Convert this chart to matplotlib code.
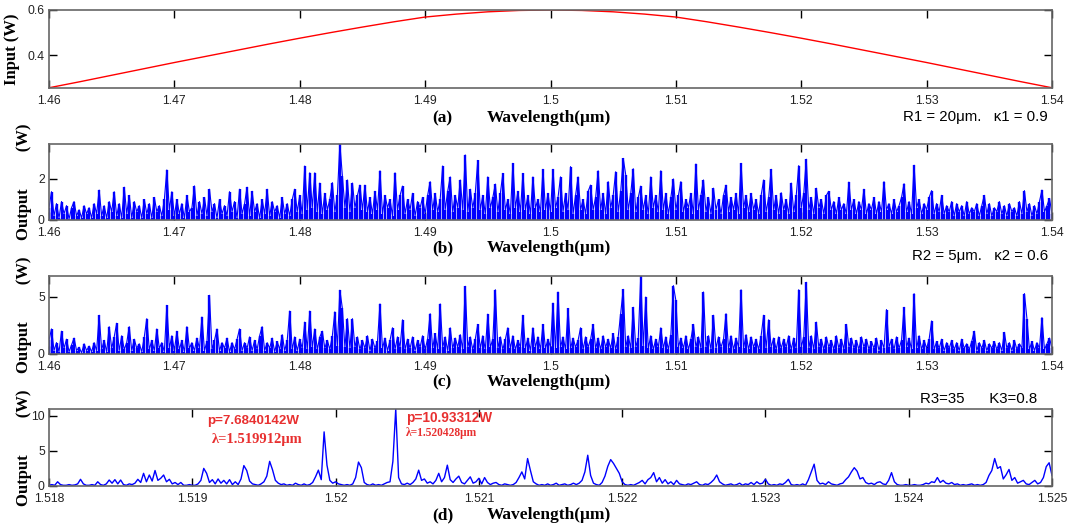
import numpy as np
import matplotlib
matplotlib.use("Agg")
import matplotlib.pyplot as plt

# ---------------- data ----------------
# (a) input spectrum, sampled every 0.0025 um from 1.46 to 1.54
wl_a_start, wl_a_step = 1.46, 0.0025
input_w = [0.258, 0.285, 0.313, 0.341, 0.369, 0.396, 0.423, 0.450, 0.476, 0.501,
           0.525, 0.548, 0.569, 0.582, 0.592, 0.598, 0.600, 0.598, 0.592, 0.582,
           0.569, 0.548, 0.525, 0.501, 0.476, 0.450, 0.423, 0.396, 0.369, 0.341,
           0.313, 0.285, 0.258]

# (b) output, ring R1, sampled every 0.0002 um from 1.46
wl_b_start, wl_b_step = 1.46, 0.0002
output_b = [
    0.6, 1.38, 0.2, 0.8, 0.1, 0.9, 0.3, 0.7, 0.05, 0.6, 0.9, 0.2, 0.5, 0.1, 0.7, 0.3, 0.6, 0.1, 0.8, 0.3,
    1.46, 0.2, 0.7, 0.1, 0.9, 0.4, 1.38, 0.2, 0.8, 0.1, 1.6, 0.3, 1.2, 0.1, 0.9, 0.4, 0.7, 0.1, 1.0, 0.3,
    0.8, 0.1, 1.1, 0.4, 0.7, 0.2, 1.0, 2.44, 0.5, 1.38, 0.2, 1.0, 0.3, 0.8, 0.1, 1.2, 0.4, 0.6, 1.66, 0.2,
    0.9, 0.3, 1.1, 0.2, 1.5, 0.4, 0.8, 0.1, 1.0, 0.3, 0.7, 0.2, 1.38, 0.4, 0.9, 0.1, 1.5, 0.3, 0.8, 1.6,
    0.2, 1.4, 0.4, 0.8, 0.1, 1.0, 0.3, 1.5, 0.2, 0.9, 0.4, 0.7, 0.1, 1.1, 0.3, 0.8, 0.2, 1.0, 1.5, 0.4,
    1.2, 0.3, 2.63, 0.5, 2.3, 0.6, 2.3, 0.4, 1.8, 0.3, 1.3, 0.5, 1.0, 1.82, 0.4, 1.2, 3.7, 2.15, 0.6, 1.95,
    0.4, 1.8, 0.6, 1.2, 1.7, 0.5, 1.7, 0.4, 1.1, 0.3, 1.4, 0.5, 2.4, 0.3, 1.2, 0.6, 1.0, 0.2, 2.3, 0.5,
    1.2, 1.65, 0.3, 1.0, 0.5, 1.3, 0.2, 0.9, 0.6, 1.1, 0.3, 1.2, 1.87, 0.5, 1.3, 0.4, 1.0, 2.63, 0.5, 1.4,
    2.1, 0.4, 1.2, 0.6, 1.95, 0.5, 3.17, 0.4, 1.5, 0.6, 1.3, 2.9, 0.5, 1.2, 0.3, 2.1, 0.6, 1.1, 1.75, 0.4,
    1.3, 2.27, 0.5, 1.0, 0.3, 2.76, 0.6, 1.4, 0.4, 2.27, 0.5, 1.2, 0.3, 2.1, 0.6, 1.0, 0.4, 2.47, 0.5, 1.3,
    0.4, 2.47, 0.6, 1.1, 2.1, 0.4, 1.3, 0.5, 2.6, 0.3, 1.2, 2.1, 0.5, 1.0, 0.3, 1.4, 1.7, 0.5, 1.1, 2.4,
    0.5, 1.3, 0.3, 1.87, 0.6, 1.2, 2.35, 0.4, 1.4, 3.0, 2.2, 0.5, 1.3, 2.5, 0.4, 1.1, 1.65, 0.5, 1.2, 0.3,
    2.1, 0.6, 1.2, 0.4, 2.4, 0.5, 1.3, 0.3, 1.1, 2.0, 0.5, 1.2, 1.87, 0.4, 1.0, 0.6, 1.3, 0.3, 2.73, 0.5,
    1.2, 1.95, 0.4, 1.1, 0.3, 1.55, 0.5, 1.0, 0.3, 1.2, 1.7, 0.4, 1.1, 0.5, 1.3, 0.3, 2.76, 0.6, 1.2, 0.4,
    1.3, 0.5, 1.0, 0.3, 1.2, 1.95, 0.4, 1.1, 2.47, 0.5, 1.2, 0.3, 1.33, 0.5, 1.0, 0.3, 1.8, 0.4, 1.2, 2.65,
    0.6, 1.3, 2.96, 0.5, 1.1, 0.3, 1.55, 0.6, 1.0, 0.3, 1.2, 1.4, 0.5, 0.9, 0.3, 1.1, 0.5, 0.8, 0.3, 1.85,
    0.5, 1.0, 0.3, 0.9, 0.5, 1.5, 0.3, 0.8, 0.5, 1.1, 0.3, 0.9, 0.4, 1.87, 0.5, 0.8, 0.3, 1.0, 0.4, 0.7,
    1.1, 1.77, 0.4, 0.9, 0.3, 2.67, 0.6, 1.0, 0.3, 0.8, 0.5, 1.1, 1.43, 0.3, 0.8, 0.4, 1.2, 0.3, 0.7, 0.4,
    0.9, 0.2, 0.8, 0.4, 0.7, 0.2, 0.9, 0.3, 0.6, 0.4, 0.8, 0.2, 0.7, 1.2, 0.3, 0.8, 0.2, 0.6, 0.4, 0.9,
    0.3, 0.7, 0.2, 0.8, 0.4, 0.6, 0.2, 0.9, 0.3, 1.43, 0.4, 0.8, 0.2, 0.7, 0.3, 0.9, 1.46, 0.4, 0.7, 1.05,
    0.3]

# (c) output, ring R2, sampled every 0.0002 um from 1.46
wl_c_start, wl_c_step = 1.46, 0.0002
output_c = [
    1.2, 2.2, 0.3, 1.0, 0.2, 2.0, 0.5, 1.3, 0.2, 0.8, 1.4, 0.3, 0.6, 0.1, 0.9, 0.3, 0.7, 0.2, 1.0, 0.3,
    3.4, 0.4, 1.2, 0.2, 2.4, 0.5, 1.5, 2.7, 0.3, 1.6, 0.4, 1.0, 2.4, 0.3, 1.3, 0.5, 0.9, 0.2, 1.5, 3.1,
    0.4, 1.2, 0.3, 2.2, 0.5, 1.0, 0.2, 4.27, 0.5, 1.6, 0.3, 2.0, 0.4, 1.2, 0.2, 2.4, 0.5, 1.0, 0.3, 1.4,
    0.5, 3.25, 0.3, 1.1, 5.15, 0.4, 1.2, 2.2, 0.3, 1.0, 0.5, 1.4, 0.2, 1.0, 0.4, 1.3, 2.2, 0.3, 1.0, 0.5,
    1.5, 0.3, 1.2, 0.4, 1.6, 2.4, 0.3, 1.0, 0.5, 1.4, 0.2, 1.1, 0.4, 1.7, 0.3, 1.2, 3.77, 0.4, 1.5, 0.3,
    1.3, 0.5, 2.8, 0.4, 3.77, 0.6, 2.2, 0.4, 1.5, 2.0, 0.5, 1.2, 0.4, 1.6, 3.7, 0.7, 5.6, 4.0, 0.6, 3.1,
    0.5, 3.1, 0.6, 1.5, 0.4, 1.2, 0.5, 1.6, 0.3, 1.3, 0.5, 1.1, 4.4, 0.5, 1.4, 0.3, 1.2, 2.3, 0.4, 1.5,
    0.6, 3.0, 0.4, 1.3, 0.5, 1.5, 0.3, 1.2, 0.6, 1.6, 0.4, 1.3, 3.54, 0.5, 1.8, 0.4, 4.4, 0.6, 1.5, 0.3,
    2.3, 0.5, 1.4, 0.6, 1.7, 0.4, 5.94, 0.6, 1.5, 0.4, 1.3, 2.6, 0.5, 1.6, 0.4, 3.5, 0.6, 1.3, 5.64, 0.5,
    1.5, 0.4, 1.3, 2.3, 0.5, 1.6, 0.4, 1.2, 0.6, 3.4, 0.5, 1.4, 0.3, 2.3, 0.6, 1.5, 0.4, 2.6, 0.5, 1.3,
    0.6, 4.47, 0.5, 5.44, 0.6, 1.5, 0.4, 4.0, 0.5, 1.4, 0.6, 1.2, 2.3, 0.4, 1.5, 0.6, 1.3, 2.6, 0.5, 1.4,
    0.4, 1.6, 0.6, 1.3, 0.5, 1.8, 0.4, 1.5, 3.54, 5.67, 0.6, 1.6, 0.5, 4.1, 0.6, 1.4, 6.84, 0.7, 5.0, 0.5,
    1.6, 0.4, 1.3, 0.6, 2.3, 0.5, 1.5, 0.4, 1.7, 6.0, 4.7, 0.6, 1.4, 0.5, 1.6, 0.4, 1.3, 2.6, 0.6, 1.5,
    0.5, 5.44, 0.6, 1.6, 0.4, 3.4, 0.5, 1.5, 0.6, 1.3, 3.54, 0.5, 1.6, 0.4, 1.4, 0.6, 5.64, 0.5, 1.7, 0.4,
    1.5, 0.6, 1.3, 0.4, 1.6, 3.4, 0.5, 3.0, 0.6, 1.4, 0.4, 1.5, 0.5, 1.3, 0.6, 1.6, 0.4, 1.4, 0.5, 5.64,
    0.6, 1.5, 6.29, 0.5, 1.6, 0.4, 2.8, 0.6, 1.3, 0.4, 1.5, 0.6, 1.2, 0.4, 1.6, 0.5, 1.3, 0.4, 2.6, 0.6,
    1.4, 0.5, 1.2, 0.4, 1.5, 0.6, 1.3, 0.4, 1.1, 0.5, 1.4, 0.3, 1.2, 0.5, 3.9, 0.6, 1.3, 0.4, 1.5, 0.5,
    1.2, 4.1, 0.6, 1.4, 0.4, 5.3, 0.5, 1.6, 0.4, 1.2, 0.5, 1.3, 2.9, 0.4, 1.1, 0.5, 1.3, 0.3, 1.0, 0.5,
    1.2, 0.4, 1.0, 0.3, 1.3, 0.5, 0.9, 0.4, 1.1, 2.0, 0.3, 1.0, 0.5, 1.2, 0.3, 0.9, 0.5, 1.1, 0.4, 1.0,
    0.3, 1.9, 0.5, 1.0, 0.3, 1.2, 0.4, 0.9, 0.5, 5.3, 3.1, 0.4, 1.1, 0.3, 1.0, 0.5, 3.2, 0.4, 0.9, 1.4,
    0.5]

# (d) output, ring R3, sampled every 0.00002 um from 1.518
wl_d_start, wl_d_step = 1.518, 0.00002
output_d = [
    0.1, 0.2, 0.1, 0.6, 0.2, 0.1, 0.1, 0.2, 0.1, 0.15, 0.3, 0.95, 0.3, 0.1, 0.1, 0.2, 0.1, 0.6, 0.2, 0.1,
    0.3, 0.85, 0.4, 0.9, 0.3, 0.85, 0.2, 0.1, 0.3, 0.2, 0.4, 0.95, 0.5, 1.8, 0.6, 1.56, 0.7, 2.2, 0.8, 1.1,
    1.56, 0.6, 0.95, 0.3, 0.5, 0.2, 0.5, 0.1, 0.1, 0.2, 0.1, 0.1, 0.3, 0.8, 2.5, 1.8, 0.5, 0.9, 0.3, 1.0,
    0.4, 0.8, 0.3, 0.9, 0.2, 0.6, 0.2, 1.0, 2.9, 2.2, 0.7, 0.3, 0.2, 0.1, 0.3, 0.6, 1.4, 3.5, 2.3, 0.8,
    0.4, 0.2, 0.3, 0.1, 0.2, 0.1, 0.4, 0.2, 0.1, 0.3, 0.1, 0.2, 0.5, 1.3, 2.25, 0.9, 7.684, 2.96, 0.8, 0.4,
    0.6, 0.3, 0.2, 0.1, 0.2, 0.1, 0.3, 1.2, 3.4, 2.6, 0.5, 0.2, 0.1, 0.3, 0.1, 0.2, 0.1, 0.3, 0.5, 0.6,
    3.5, 10.933, 1.2, 0.3, 0.2, 0.4, 0.2, 0.5, 1.0, 2.25, 0.8, 1.0, 0.4, 0.6, 0.3, 0.8, 1.8, 0.6, 1.2, 2.96,
    0.9, 0.5, 1.0, 1.4, 0.5, 0.3, 0.8, 1.3, 0.4, 0.6, 1.1, 0.3, 1.2, 0.5, 0.2, 0.4, 0.5, 0.2, 0.1, 0.3,
    0.2, 0.1, 0.2, 0.5, 1.2, 2.0, 1.0, 3.9, 2.2, 0.6, 0.3, 0.1, 0.2, 0.1, 0.3, 0.1, 0.2, 0.4, 0.1, 0.2,
    0.3, 0.1, 0.2, 0.4, 0.2, 0.4, 0.8, 2.0, 4.37, 1.5, 0.4, 0.2, 0.1, 0.5, 1.4, 2.8, 3.75, 3.2, 2.5, 1.8,
    0.6, 0.2, 0.1, 0.2, 0.1, 0.3, 0.5, 0.8, 0.3, 0.9, 1.2, 1.9, 0.6, 1.2, 0.4, 0.9, 0.3, 0.6, 0.2, 0.8,
    0.3, 0.2, 0.1, 0.3, 0.2, 0.4, 0.6, 0.2, 0.1, 0.3, 0.2, 0.5, 0.9, 1.56, 0.6, 0.3, 0.1, 0.2, 0.3, 0.1,
    0.2, 0.4, 0.1, 0.3, 0.2, 0.5, 0.2, 0.6, 0.3, 0.4, 0.95, 0.3, 0.1, 0.2, 0.1, 0.3, 0.2, 0.5, 0.95, 0.2,
    0.1, 0.2, 0.1, 0.3, 0.1, 0.9, 2.0, 3.1, 0.8, 0.3, 0.4, 0.2, 0.6, 0.3, 0.2, 0.1, 0.3, 0.4, 0.9, 1.3,
    2.0, 2.6, 2.1, 1.0, 1.2, 0.5, 0.3, 0.4, 0.2, 0.5, 0.6, 0.3, 0.2, 0.8, 1.9, 0.6, 0.2, 0.1, 0.1, 0.2,
    0.1, 0.1, 0.2, 0.1, 0.1, 0.2, 0.4, 0.3, 0.6, 0.5, 1.2, 0.5, 0.8, 0.4, 0.3, 0.5, 0.2, 0.3, 0.1, 0.2,
    0.1, 0.2, 0.3, 0.1, 0.2, 0.1, 0.2, 0.5, 1.5, 2.2, 3.9, 2.5, 2.75, 1.0, 1.6, 2.35, 0.8, 1.2, 0.4, 0.6,
    0.8, 0.3, 0.2, 0.5, 0.8, 0.3, 0.5, 1.2, 2.75, 3.3, 1.5]

ticks_ad = [1.46, 1.47, 1.48, 1.49, 1.5, 1.51, 1.52, 1.53, 1.54]
ticklabels_ad = ["1.46", "1.47", "1.48", "1.49", "1.5", "1.51", "1.52", "1.53", "1.54"]
ticks_d = [1.518, 1.519, 1.52, 1.521, 1.522, 1.523, 1.524, 1.525]
ticklabels_d = ["1.518", "1.519", "1.52", "1.521", "1.522", "1.523", "1.524", "1.525"]

# ---------------- figure ----------------
W, H = 1073, 530
fig = plt.figure(figsize=(W / 100, H / 100), dpi=100)

SANS = "Liberation Sans"
SERIF = "Liberation Serif"


def axrect(top, bottom, left=49, right=1052):
    return [left / W, 1 - bottom / H, (right - left) / W, (bottom - top) / H]


def style(ax, xt, xtl, yt):
    ax.set_xticks(xt)
    ax.set_xticklabels(xtl, fontfamily=SANS, fontsize=8.8)
    ax.set_yticks(yt)
    ax.set_yticklabels([("%g" % v) for v in yt], fontfamily=SANS, fontsize=8.8)
    ax.tick_params(direction="in", length=6, width=1, top=True, right=True,
                   colors="black", labelcolor="#222222")
    ax.tick_params(axis="x", pad=4.8)
    ax.tick_params(axis="y", pad=3)
    for s in ax.spines.values():
        s.set_color("#666666")
        s.set_linewidth(1.2)


def ptext(x, y, s, **kw):
    fig.text(x / W, 1 - y / H, s, **kw)


ylab_kw = dict(fontfamily=SERIF, fontweight="bold", fontsize=12)

# (a)
ax_a = fig.add_axes(axrect(10, 88))
xa = wl_a_start + wl_a_step * np.arange(len(input_w))
ax_a.plot(xa, input_w, color="red", lw=1.0)
ax_a.set_xlim(1.46, 1.54)
ax_a.set_ylim(0.257, 0.6)
style(ax_a, ticks_ad, ticklabels_ad, [0.4, 0.6])
ax_a.set_ylabel("Input (W)", **ylab_kw)
ax_a.yaxis.set_label_coords(-0.0285, 0.5)


def spectrum(ax, x, y):
    ax.vlines(x, 0, y, color="blue", lw=1.7)
    ax.plot(x, y, color="blue", lw=0.8)


# (b)
ax_b = fig.add_axes(axrect(144, 220))
xb = wl_b_start + wl_b_step * np.arange(len(output_b))
spectrum(ax_b, xb, output_b)
ax_b.set_xlim(1.46, 1.54)
ax_b.set_ylim(0, max(output_b))
style(ax_b, ticks_ad, ticklabels_ad, [0, 2])
ax_b.set_ylabel("Output         (W)", **ylab_kw)
ax_b.yaxis.set_label_coords(-0.017, 0.5)

# (c)
ax_c = fig.add_axes(axrect(276, 354))
xc = wl_c_start + wl_c_step * np.arange(len(output_c))
spectrum(ax_c, xc, output_c)
ax_c.set_xlim(1.46, 1.54)
ax_c.set_ylim(0, max(output_c))
style(ax_c, ticks_ad, ticklabels_ad, [0, 5])
ax_c.set_ylabel("Output         (W)", **ylab_kw)
ax_c.yaxis.set_label_coords(-0.017, 0.5)

# (d)
ax_d = fig.add_axes(axrect(409, 486))
xd = wl_d_start + wl_d_step * np.arange(len(output_d))
ax_d.plot(xd, output_d, color="blue", lw=1.0)
ax_d.set_xlim(1.518, 1.525)
ax_d.set_ylim(0, max(output_d))
style(ax_d, ticks_d, ticklabels_d, [0, 5, 10])
ax_d.set_ylabel("Output         (W)", **ylab_kw)
ax_d.yaxis.set_label_coords(-0.017, 0.5)

# x-axis captions
bold_serif = dict(fontfamily=SERIF, fontweight="bold", fontsize=12.5, va="center", ha="left")
for lab, y in [("(a)", 118), ("(b)", 248), ("(c)", 382), ("(d)", 515)]:
    ptext(432, y, lab, **bold_serif)
    ptext(487, y, "Wavelength(\u03bcm)", **bold_serif)

# parameter annotations
ann_kw = dict(fontfamily=SANS, fontsize=10.8, va="center", ha="left")
ptext(903, 117, "R1 = 20\u03bcm.   \u03ba1 = 0.9", **ann_kw)
ptext(912, 256, "R2 = 5\u03bcm.   \u03ba2 = 0.6", **ann_kw)
ptext(920, 399, "R3=35      K3=0.8", **ann_kw)

# peak annotations
red = "#e83030"
ptext(207, 421, "p=7.6840142W", fontfamily=SANS, fontweight="bold", fontsize=9.6, color=red, va="center", ha="left")
ptext(212, 440, "\u03bb=1.519912\u03bcm", fontfamily=SERIF, fontweight="bold", fontsize=10.5, color=red, va="center", ha="left")
ptext(406, 418, "p=10.93312W", fontfamily=SANS, fontweight="bold", fontsize=9.8, color=red, va="center", ha="left")
ptext(406, 433, "\u03bb=1.520428\u03bcm", fontfamily=SERIF, fontweight="bold", fontsize=8.3, color=red, va="center", ha="left")

fig.savefig("out.png", dpi=100)
